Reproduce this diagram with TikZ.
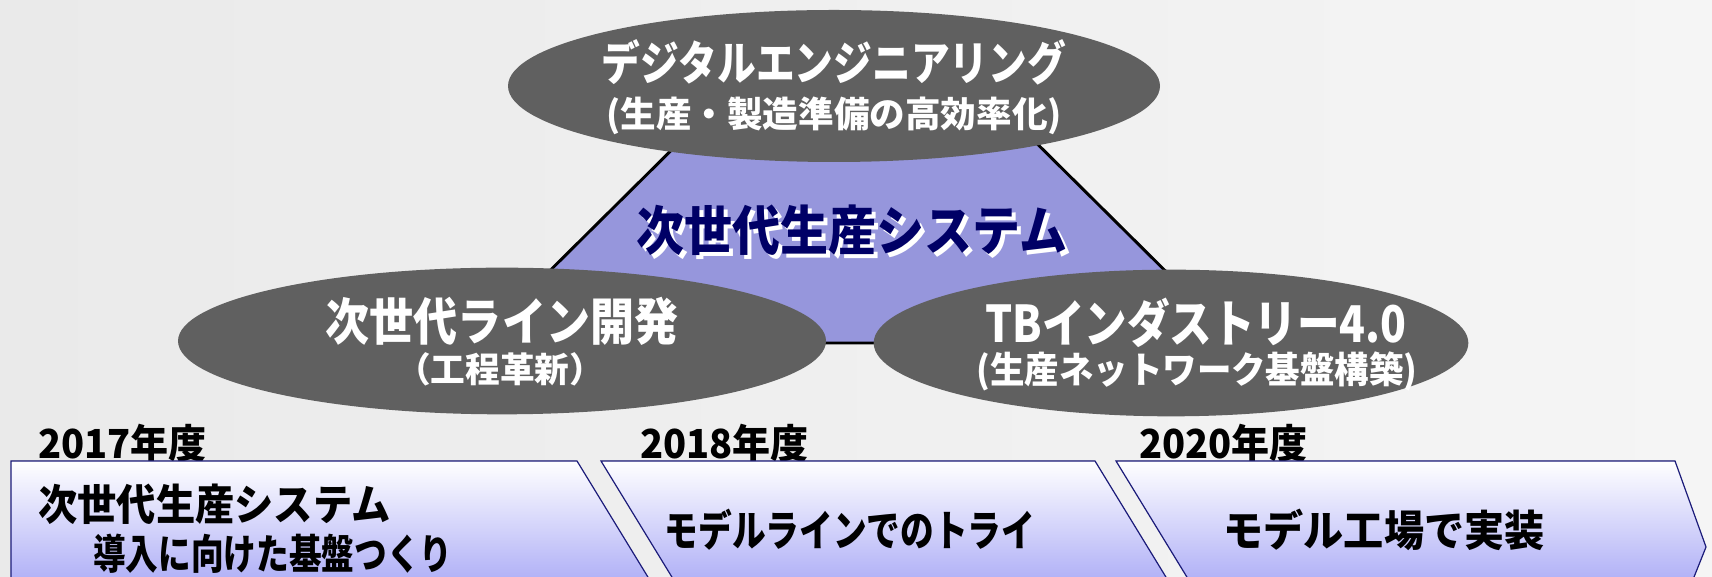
\documentclass[tikz,border=0pt]{standalone}
\usepackage{fontspec}
\setmainfont{Noto Sans CJK JP}
\usetikzlibrary{shapes.geometric}

\definecolor{bgleft}{HTML}{EAEAEA}
\definecolor{bgright}{HTML}{F5F5F5}
\definecolor{bubblegray}{HTML}{606060}
\definecolor{trifill}{HTML}{9696DC}
\definecolor{navytext}{HTML}{000066}
\definecolor{phaselav}{HTML}{ACACF6}
\definecolor{phaseline}{HTML}{1C1C7A}

\newcommand{\shadowed}[1]{\rlap{\hspace{3pt}\raisebox{-3pt}{\color{white}#1}}#1}

\tikzset{
    jp/.style 2 args={inner sep=0pt, font=\bfseries\fontsize{#1}{#1}\selectfont\addfontfeature{FakeStretch=#2}},
    bubble/.style={ellipse, fill=bubblegray, inner sep=0pt, outer sep=0pt},
    bubbletxt/.style 2 args={jp={#1}{#2}, text=white},
    yeartxt/.style={jp={30}{0.95}, anchor=west},
    phase/.style={draw=phaseline, line width=0.9pt, top color=white, bottom color=phaselav},
}

\begin{document}
\begin{tikzpicture}[x=0.75pt, y=0.75pt]
    \useasboundingbox (0,0) rectangle (1712,577);
    \clip (0,0) rectangle (1712,577);
    \fill[left color=bgleft, right color=bgright] (0,0) rectangle (1712,577);

    % triangle
    \filldraw[fill=trifill, draw=black, line width=2.2pt, line join=round]
        (477,234) -- (722,477) -- (993,477) -- (1238,234) -- cycle;
    \node[jp={40}{0.9}, text=navytext] (core) at (852,345) {\shadowed{次世代生産システム}};

    % top
    \node[bubble, minimum width=489pt, minimum height=114pt] (digital) at (834,491) {};
    \node[bubbletxt={35}{0.83}] (digital1) at (834,515) {デジタルエンジニアリング};
    \node[bubbletxt={26.7}{1}] (digital2) at (834,461) {(生産・製造準備の高効率化)};

    % left
    \node[bubble, minimum width=486pt, minimum height=110pt] (line) at (502,236) {};
    \node[bubbletxt={38}{0.87}] (line1) at (502,256) {次世代ライン開発};
    \node[bubbletxt={26}{1}] (line2) at (500,208) {（工程革新）};

    % right
    \node[bubble, minimum width=446pt, minimum height=110pt] (tb) at (1171,234) {};
    \node[bubbletxt={38}{0.84}] (tb1) at (1196,254) {TBインダストリー4.0};
    \node[bubbletxt={27.5}{0.94}] (tb2) at (1197,206) {(生産ネットワーク基盤構築)};

    % years
    \node[yeartxt] (y2017) at (38,134) {2017年度};
    \node[yeartxt] (y2018) at (640,134) {2018年度};
    \node[yeartxt] (y2020) at (1139,134) {2020年度};

    % phases
    \filldraw[phase] (11,116) -- (577,116) -- (654,-10) -- (11,-10) -- cycle;
    \filldraw[phase] (601,116) -- (1095,116) -- (1172,-10) -- (678,-10) -- cycle;
    \filldraw[phase] (1116,116) -- (1675,116) -- (1706,30) -- (1692,-5) -- (1193,-10) -- cycle;

    \node[jp={32}{0.92}, anchor=west] (p1a) at (38,73) {次世代生産システム};
    \node[jp={31}{0.79}, anchor=west] (p1b) at (93,23) {導入に向けた基盤つくり};
    \node[jp={32}{0.79}] (p2) at (850,47) {モデルラインでのトライ};
    \node[jp={32}{0.94}] (p3) at (1384,47) {モデル工場で実装};
\end{tikzpicture}
\end{document}
